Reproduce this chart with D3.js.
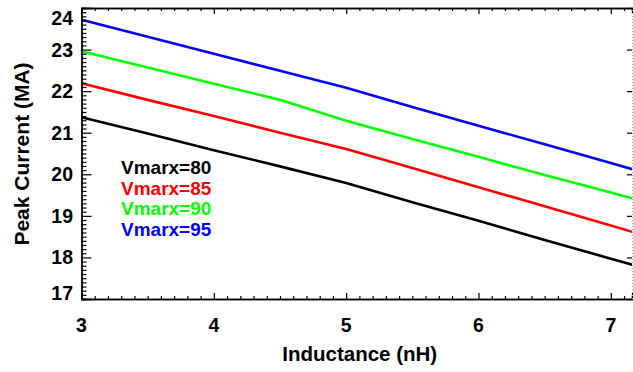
<!DOCTYPE html>
<html><head><meta charset="utf-8">
<script src="https://cdn.jsdelivr.net/npm/d3@7"></script>
<style>
body{margin:0;background:#fff;}
text{font-family:"Liberation Sans",Arial,Helvetica,sans-serif;font-weight:bold;}
</style></head>
<body><svg id="c" width="633" height="372"></svg>
<script>
const inductance = [3, 3.5, 4, 4.5, 5, 5.5, 6, 6.5, 7, 7.2];
const v80 = [21.37, 20.98, 20.58, 20.19, 19.79, 19.33, 18.88, 18.42, 17.97, 17.79];
const v85 = [22.19, 21.79, 21.40, 21.00, 20.61, 20.15, 19.69, 19.23, 18.77, 18.58];
const v90 = [22.96, 22.57, 22.18, 21.79, 21.29, 20.85, 20.42, 19.98, 19.56, 19.39];
const v95 = [23.72, 23.31, 22.90, 22.49, 22.08, 21.62, 21.17, 20.72, 20.27, 20.09];
const seriesNames = ["Vmarx=80", "Vmarx=85", "Vmarx=90", "Vmarx=95"];
const seriesColors = ["#000000", "#ff0000", "#00ff00", "#0000ff"];
const xTicks = [3, 4, 5, 6, 7];
const yTicks = [17, 18, 19, 20, 21, 22, 23, 24];
const xLabel = "Inductance (nH)";
const yLabel = "Peak Current (MA)";

const svg = d3.select("#c");
const L = 81.5, R = 632, T = 8, B = 299;
const x = d3.scaleLinear().domain([3, 7.16]).range([L, R]);
const y = d3.scaleLinear().domain([17, 24]).range([B, T]);

svg.append("clipPath").attr("id","clip").append("rect")
  .attr("x", L).attr("y", T).attr("width", R - L).attr("height", B - T);

const series = [v80, v85, v90, v95];
const line = d3.line().x((d,i)=>x(inductance[i])).y(d=>y(d));
const g = svg.append("g").attr("clip-path","url(#clip)");
series.forEach((s,k)=>{
  g.append("path").datum(s).attr("d", line).attr("fill","none")
   .attr("stroke", seriesColors[k]).attr("stroke-width", 2.6);
});

const xMinor = d3.range(30, 72).map(v=>v/10).filter(v=>!xTicks.includes(v));
const yMinor = d3.range(170, 241).map(v=>v/10).filter(v=>!yTicks.includes(v));

svg.append("g").attr("transform",`translate(${L},0)`)
  .call(d3.axisLeft(y).tickValues(yTicks).tickSize(-10).tickFormat(""));
svg.append("g").attr("transform",`translate(${L},0)`)
  .call(d3.axisLeft(y).tickValues(yMinor).tickSize(-5).tickFormat(""));
svg.append("g").attr("transform",`translate(0,${B})`)
  .call(d3.axisBottom(x).tickValues(xTicks).tickSize(-6).tickFormat(""));
svg.append("g").attr("transform",`translate(0,${B})`)
  .call(d3.axisBottom(x).tickValues(xMinor).tickSize(-3).tickFormat(""));
svg.append("g").attr("transform",`translate(0,${T})`)
  .call(d3.axisTop(x).tickValues(xTicks).tickSize(-6).tickFormat(""));
svg.append("g").attr("transform",`translate(0,${T})`)
  .call(d3.axisTop(x).tickValues(xMinor).tickSize(-3).tickFormat(""));
const gr = svg.append("g").attr("transform",`translate(${R},0)`)
  .call(d3.axisRight(y).tickValues(yTicks).tickSize(-5).tickFormat(""));
svg.selectAll(".domain").attr("stroke","#000").attr("stroke-width",1.3);
svg.selectAll(".tick line").attr("stroke","#000").attr("stroke-width",1.2);
gr.select(".domain").attr("stroke","#aaa").attr("stroke-dasharray","1,2").attr("stroke-width",1);

svg.append("g").selectAll("text").data(xTicks).join("text")
  .attr("x", d=>x(d)).attr("y", 332).attr("text-anchor","middle")
  .attr("font-size", 19.5).text(d=>d);
svg.append("g").selectAll("text").data(yTicks).join("text")
  .attr("x", 73).attr("y", d=>Math.min(Math.max(y(d), 18), 293) + 7)
  .attr("text-anchor","end").attr("font-size", 19.5).text(d=>d);

svg.append("text").attr("x", (L+R)/2+3).attr("y", 361).attr("text-anchor","middle")
  .attr("font-size", 20.5).text(xLabel);
svg.append("text").attr("transform",`translate(29,154) rotate(-90)`)
  .attr("text-anchor","middle").attr("font-size", 21).text(yLabel);

svg.append("g").selectAll("text").data(seriesNames).join("text")
  .attr("x", 121).attr("y", (d,i)=>174 + i*20.5)
  .attr("font-size", 19).attr("fill", (d,i)=>seriesColors[i]).text(d=>d);
</script></body></html>
